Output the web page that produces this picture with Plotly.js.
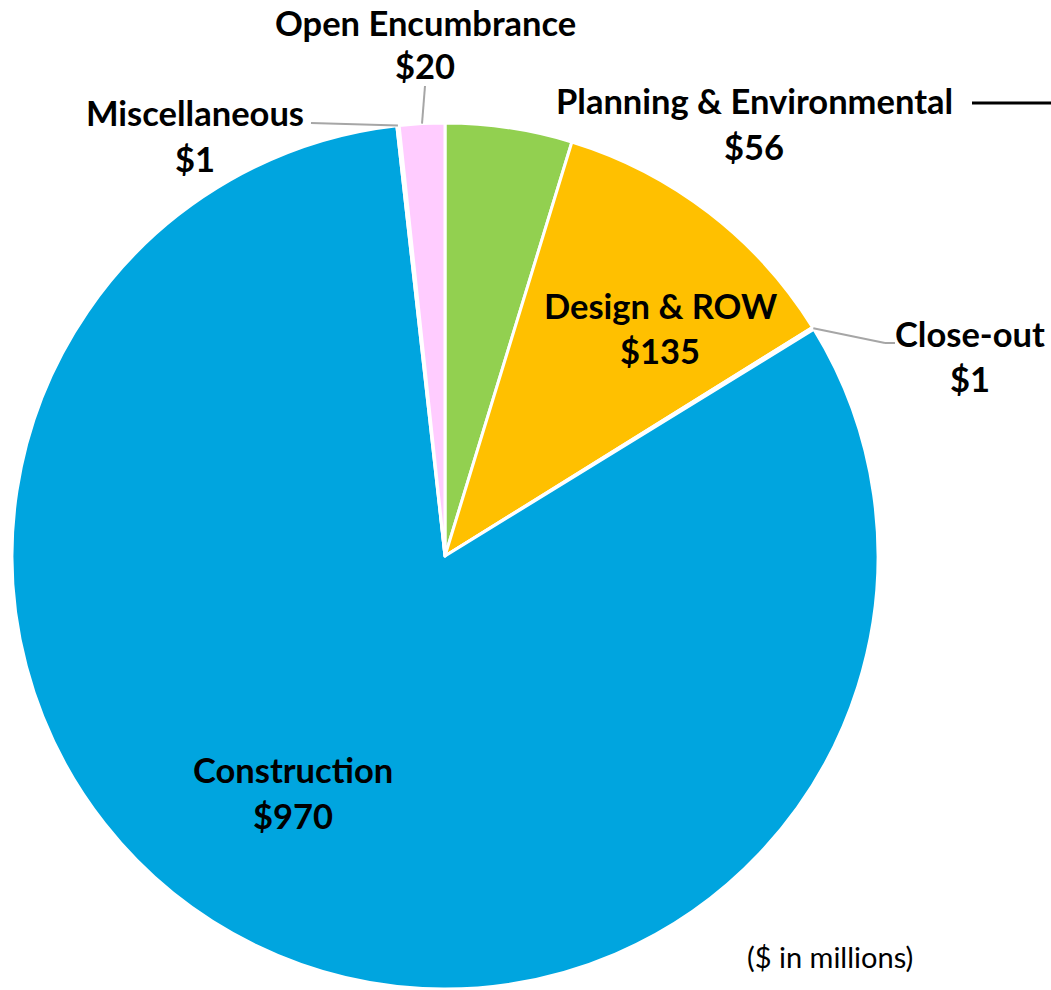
<!DOCTYPE html>
<html>
<head>
<meta charset="utf-8">
<script src="https://cdn.plot.ly/plotly-3.0.1.min.js"></script>
<style>html,body{margin:0;padding:0;background:#fff;}#chart{width:1051px;height:990px;}</style>
</head>
<body>
<div id="chart"></div>
<script>
// Data ($ in millions)
const categories = ["Planning & Environmental", "Design & ROW", "Close-out", "Construction", "Miscellaneous", "Open Encumbrance"];
const values = [56, 135, 1, 970, 1, 20];
const valueLabels = ["$56", "$135", "$1", "$970", "$1", "$20"];
const colors = ["#92D050", "#FFC000", "#D9D9D9", "#00A5DF", "#D9D9D9", "#FFCCFF"];

const W = 1051, H = 990;
const cx = 445, cy = 556, R = 433;
const px = x => x / W;
const py = y => 1 - y / H;

// anchor on pie edge at slice midpoint, derived from data
const total = values.reduce((a, b) => a + b, 0);
function edgePoint(i) {
  let before = 0;
  for (let k = 0; k < i; k++) before += values[k];
  const ang = (before + values[i] / 2) / total * 2 * Math.PI;
  return [cx + R * Math.sin(ang), cy - R * Math.cos(ang)];
}

// label positions (pixel centres)
const labelPos = {
  0: {x: 754, y1: 101, y2: 146},
  1: {x: 660, y1: 305, y2: 351},
  2: {x: 970, y1: 333, y2: 378},
  3: {x: 293, y1: 769, y2: 815},
  4: {x: 195, y1: 112, y2: 158},
  5: {x: 425, y1: 22, y2: 66}
};

const font = {family: "Lato, 'Open Sans', sans-serif", size: 34.5, color: "#000"};
const annotations = [];
categories.forEach((c, i) => {
  const p = labelPos[i];
  annotations.push({text: "<b>" + c + "</b>", x: px(p.x), y: py(p.y1), xref: "paper", yref: "paper",
    showarrow: false, xanchor: "center", yanchor: "middle", font: font});
  annotations.push({text: "<b>" + valueLabels[i] + "</b>", x: px(p.x), y: py(p.y2), xref: "paper", yref: "paper",
    showarrow: false, xanchor: "center", yanchor: "middle", font: font});
});
annotations.push({text: "($ in millions)", x: px(830), y: py(956), xref: "paper", yref: "paper",
  showarrow: false, xanchor: "center", yanchor: "middle",
  font: {family: "Lato, 'Open Sans', sans-serif", size: 29, color: "#000"}});

const leader = {color: "#A6A6A6", width: 2};
const shapes = [];
function seg(a, b, line) {
  shapes.push({type: "line", xref: "paper", yref: "paper",
    x0: px(a[0]), y0: py(a[1]), x1: px(b[0]), y1: py(b[1]), line: line});
}
// Miscellaneous leader
seg(edgePoint(4), [311, 123], leader);
// Open Encumbrance leader
seg(edgePoint(5), [425, 86], leader);
// Close-out leader (elbow)
seg(edgePoint(2), [885, 343], leader);
seg([885, 343], [895, 343], leader);
// black dash right of Planning & Environmental
seg([972, 103], [1051, 103], {color: "#000", width: 3});

const trace = {
  type: "pie",
  labels: categories,
  values: values,
  sort: false,
  direction: "clockwise",
  rotation: 0,
  textinfo: "none",
  hoverinfo: "label+value",
  marker: {colors: colors, line: {color: "#FFFFFF", width: 3}},
  domain: {x: [px(cx - R), px(cx + R)], y: [py(cy + R), py(cy - R)]},
  showlegend: false
};

const layout = {
  width: W, height: H,
  margin: {l: 0, r: 0, t: 0, b: 0},
  paper_bgcolor: "#FFFFFF",
  showlegend: false,
  annotations: annotations,
  shapes: shapes
};

Plotly.newPlot("chart", [trace], layout, {displayModeBar: false, staticPlot: true});
</script>
</body>
</html>
